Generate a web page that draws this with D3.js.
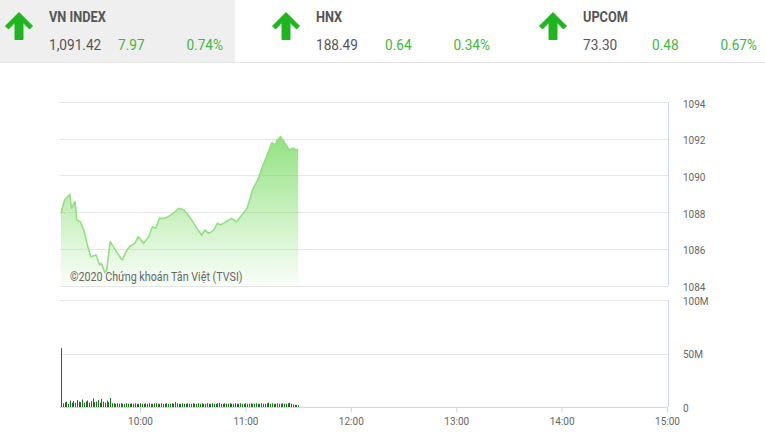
<!DOCTYPE html>
<html><head><meta charset="utf-8">
<script src="https://cdnjs.cloudflare.com/ajax/libs/d3/7.8.5/d3.min.js"></script>
<style>
html,body{margin:0;padding:0;background:#fff;}
svg{display:block;font-family:Roboto,"Noto Sans",sans-serif;}
</style></head>
<body>
<svg id="c" width="765" height="443"></svg>
<script>
// ---------- DATA ----------
const indexNames   = ["VN INDEX", "HNX", "UPCOM"];
const indexValues  = ["1,091.42", "188.49", "73.30"];
const indexChanges = ["7.97", "0.64", "0.48"];
const indexPercents= ["0.74%", "0.34%", "0.67%"];

const priceTimes = ["9:15","9:17","9:20","9:21","9:23","9:24","9:26","9:28","9:30","9:32","9:35","9:37","9:38","9:40","9:41","9:43","9:46","9:49","9:50","9:52","9:54","9:57","9:59","10:02","10:05","10:07","10:09","10:11","10:14","10:16","10:19","10:22","10:25","10:27","10:30","10:33","10:35","10:37","10:39","10:42","10:44","10:46","10:49","10:52","10:55","10:58","11:01","11:04","11:07","11:10","11:12","11:15","11:17","11:18","11:20","11:22","11:25","11:27","11:29","11:30"];
const priceValues = [1087.93,1088.66,1088.97,1088.21,1088.57,1087.57,1087.48,1087.02,1086.21,1085.57,1085.66,1085.12,1085.21,1084.70,1084.84,1086.39,1085.93,1085.48,1085.39,1085.84,1086.11,1086.30,1086.66,1086.30,1086.66,1087.20,1087.12,1087.66,1087.66,1087.75,1087.93,1088.21,1088.11,1087.90,1087.48,1087.02,1086.75,1087.02,1086.84,1087.02,1087.39,1087.30,1087.48,1087.66,1087.48,1087.84,1088.21,1089.20,1089.75,1090.57,1091.02,1091.78,1091.66,1091.93,1092.11,1091.84,1091.38,1091.48,1091.38,1091.42];

const volStart = "9:15";   // one bar per minute from here
const volValues = [55,
 3.5,4.5,5,3,6,4,5.5,4,6.5,5,4.5,7,4,5,6,4,5.5,8,4.5,5,6.5,4,7.5,5,4,6,4.5,8.5,
 3.5,3.5,3,3.5,3,3.5,3,3,3.5,3,3,3.5,3,3.5,3,3,3.5,3,3,3.5,
 3,3.5,3,3,3.5,3.5,3,3,3.5,3,3,3.5,3,3,3.5,3,4.5,3.5,3,3,
 3.5,3,3,3.5,3,3,3.5,3,3,3.5,3,3.5,3,3,3.5,3,3,3.5,3,3,
 3.5,4,3,3,3.5,3,3,3.5,3,3,3.5,3,3,3.5,3,3,3.5,3,3,3.5,
 3,3,3.5,3,3,3.5,3,3,3.5,4,3,3.5,3,3,3.5,3,3,3.5,3,3,
 3.5,4,3,2.5,2,2,1.5];

const priceTicks = [1084,1086,1088,1090,1092,1094];
const volTicks = [0,50,100];
const volTickLabels = ["0","50M","100M"];
const timeTicks = ["10:00","11:00","12:00","13:00","14:00","15:00"];
const timeDomain = ["9:15","15:00"];

// ---------- DRAW ----------
const svg = d3.select("#c");
const parse = d3.timeParse("%H:%M");

// header
svg.append("rect").attr("x",0).attr("y",0).attr("width",235).attr("height",62).attr("fill","#efefef");
svg.append("line").attr("x1",0).attr("x2",765).attr("y1",62.5).attr("y2",62.5).attr("stroke","#e4e4e4");

const green = "#3db83d";
const arrowPts = [[19,12.5],[32.5,26],[29.5,29],[23,22.5],[23,39.5],[15,39.5],[15,22.5],[8.5,29],[5.5,26]];
indexNames.forEach((n,i)=>{
  const g = svg.append("g").attr("transform",`translate(${i*267},0)`);
  g.append("polygon").attr("points",arrowPts.map(p=>p.join(",")).join(" ")).attr("fill","#1fb51f").attr("stroke","#1fb51f").attr("stroke-width",1).attr("stroke-linejoin","round");
  const t = g.append("g").attr("transform","translate(49,0) scale(0.88,1)");
  t.append("text").attr("x",0).attr("y",22).attr("font-size",14.5).attr("font-weight","bold").attr("fill","#555").text(n);
  t.append("text").attr("x",0).attr("y",50).attr("font-size",15.5).attr("fill","#555").text(indexValues[i]);
  const t2 = g.append("g").attr("transform","translate(118,0) scale(0.88,1)");
  t2.append("text").attr("x",0).attr("y",50).attr("font-size",15.5).attr("fill",green).text(indexChanges[i]);
  const t3 = g.append("g").attr("transform","translate(223,0) scale(0.88,1)");
  t3.append("text").attr("x",0).attr("y",50).attr("font-size",15.5).attr("fill",green).attr("text-anchor","end").text(indexPercents[i]);
});

const x = d3.scaleTime().domain(timeDomain.map(parse)).range([61,667]);
const yP = d3.scaleLinear().domain([1084,1094]).range([285.5,102]);
const yV = d3.scaleLinear().domain([0,100]).range([407,300]);
const gridCol = "#e6e6e6", axisCol = "#ccd6eb", labCol = "#666";

// price grid
svg.append("g").selectAll("line").data(priceTicks).join("line")
  .attr("x1",60).attr("x2",668).attr("y1",d=>Math.round(yP(d))+0.5).attr("y2",d=>Math.round(yP(d))+0.5)
  .attr("stroke",gridCol);
svg.append("line").attr("x1",668.5).attr("x2",668.5).attr("y1",yP(1094)).attr("y2",yP(1084)).attr("stroke",axisCol);
svg.append("g").selectAll("text").data(priceTicks).join("text")
  .attr("x",683).attr("y",d=>yP(d)+5.5).attr("font-size",10).attr("fill",labCol).text(d=>d);

// area
const defs = svg.append("defs");
const grad = defs.append("linearGradient").attr("id","ag").attr("gradientUnits","userSpaceOnUse")
  .attr("x1",0).attr("x2",0).attr("y1",yP(1092.2)).attr("y2",yP(1084));
grad.append("stop").attr("offset",0).attr("stop-color","#7fdc6a").attr("stop-opacity",0.85);
grad.append("stop").attr("offset",1).attr("stop-color","#7fdc6a").attr("stop-opacity",0.04);
const pdata = priceTimes.map((t,i)=>({t:parse(t),v:priceValues[i]}));
svg.append("path").datum(pdata)
  .attr("d",d3.area().x(d=>x(d.t)).y0(yP(1084)).y1(d=>yP(d.v)))
  .attr("fill","url(#ag)");
svg.append("path").datum(pdata)
  .attr("d",d3.line().x(d=>x(d.t)).y(d=>yP(d.v)))
  .attr("fill","none").attr("stroke","#93e080").attr("stroke-width",1.6).attr("stroke-linejoin","round");

svg.append("g").attr("transform","translate(70,0) scale(0.88,1)")
  .append("text").attr("x",0).attr("y",281).attr("font-size",12.2).attr("fill","#666")
  .text("©2020 Chứng khoán Tân Việt (TVSI)");

// volume grid
svg.append("g").selectAll("line").data(volTicks.filter(d=>d>0)).join("line")
  .attr("x1",60).attr("x2",668).attr("y1",d=>Math.round(yV(d))+0.5).attr("y2",d=>Math.round(yV(d))+0.5)
  .attr("stroke",gridCol);
svg.append("line").attr("x1",668.5).attr("x2",668.5).attr("y1",yV(100)).attr("y2",yV(0)).attr("stroke",axisCol);
svg.append("g").selectAll("text").data(volTicks).join("text")
  .attr("x",683).attr("y",(d)=>yV(d)+4.5).attr("font-size",10).attr("fill",labCol).text((d,i)=>volTickLabels[i]);

// volume bars
const t0 = parse(volStart);
const vdata = volValues.map((v,i)=>({t:d3.timeMinute.offset(t0,i),v}));
svg.append("g").selectAll("rect").data(vdata).join("rect")
  .attr("x",d=>Math.round(x(d.t))).attr("width",1)
  .attr("y",d=>yV(d.v)).attr("height",d=>yV(0)-yV(d.v))
  .attr("fill","#1f6e1f");

// x axis
const xa = svg.append("g").attr("transform",`translate(0,${Math.round(yV(0))+0.5})`)
  .call(d3.axisBottom(x).tickValues(timeTicks.map(parse)).tickFormat(d3.timeFormat("%H:%M")).tickSize(5).tickSizeOuter(0));
xa.select(".domain").attr("d","M60,0H668").attr("stroke",axisCol);
xa.selectAll(".tick line").attr("stroke",axisCol);
xa.selectAll(".tick text").attr("font-size",10).attr("fill",labCol).attr("font-family","Roboto").attr("dy","0.9em");
</script>
</body></html>
